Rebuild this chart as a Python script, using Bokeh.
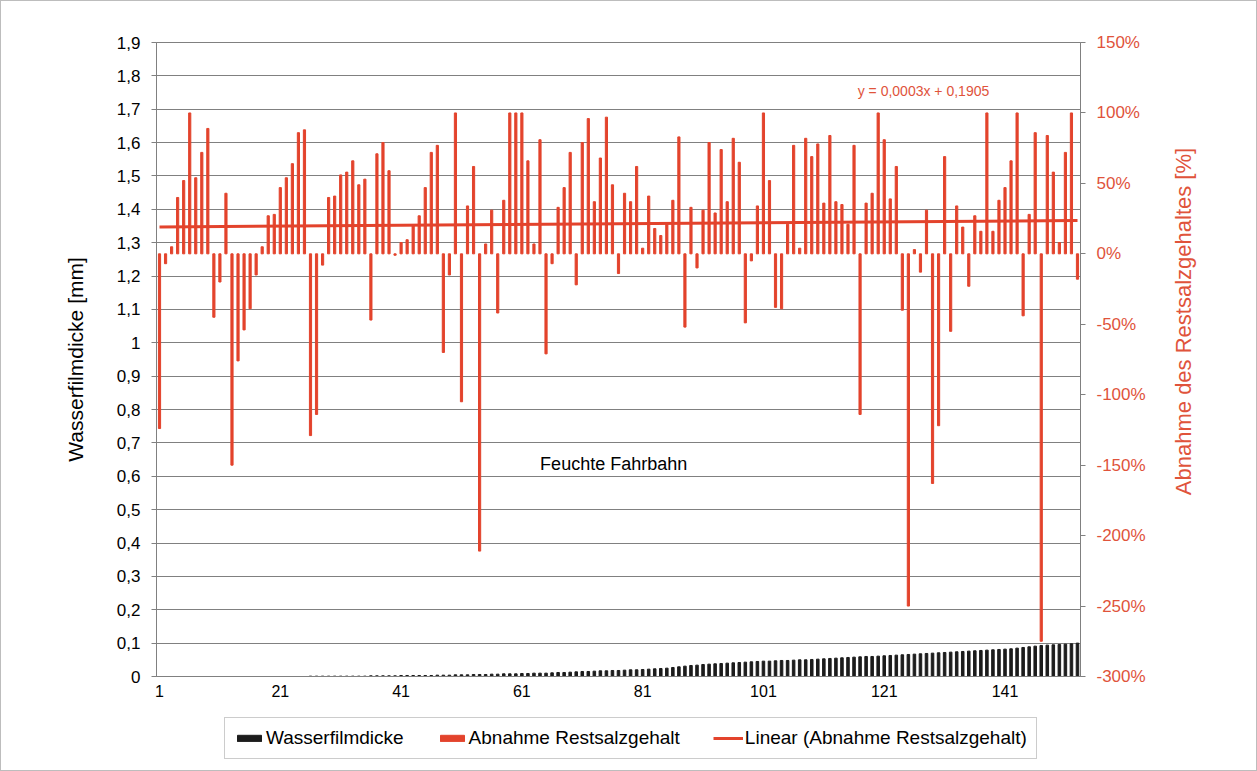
import math
from bokeh.plotting import figure
from bokeh.layouts import row, column
from bokeh.models import (Range1d, LinearAxis, FixedTicker, Legend, LegendItem, Label)
from bokeh.embed import file_html
from bokeh.resources import INLINE

# ---------------- data ----------------
categories = list(range(1, 154))

wasserfilmdicke = (
    [0.0] * 25
    + [0.001] * 10
    + [0.002] * 5 + [0.003] * 5
    + [0.003, 0.004, 0.004, 0.004, 0.005, 0.005, 0.005, 0.006, 0.006, 0.006]
    + [0.007, 0.007, 0.008, 0.008, 0.008, 0.009, 0.009, 0.010, 0.010, 0.010]
    + [0.011, 0.012, 0.012, 0.013, 0.014, 0.015, 0.015, 0.016, 0.017, 0.017]
    + [0.018, 0.018, 0.019, 0.020, 0.020, 0.021, 0.022, 0.023, 0.024, 0.025]
    + [0.027, 0.029, 0.031, 0.033, 0.034, 0.036, 0.037, 0.038, 0.039, 0.040]
    + [0.041, 0.042, 0.043, 0.044, 0.045, 0.046, 0.046, 0.047, 0.048, 0.048]
    + [0.049, 0.050, 0.050, 0.051, 0.052, 0.053, 0.054, 0.055, 0.056, 0.057]
    + [0.058, 0.059, 0.060, 0.060, 0.061, 0.062, 0.063, 0.064, 0.065, 0.066]
    + [0.067, 0.068, 0.069, 0.070, 0.071, 0.072, 0.073, 0.074, 0.075, 0.076]
    + [0.077, 0.078, 0.079, 0.080, 0.081, 0.082, 0.083, 0.085, 0.087, 0.089]
    + [0.091, 0.093, 0.094, 0.095, 0.096, 0.097, 0.098, 0.100]
)

abnahme_restsalz = [
    -124, -7, 5, 40, 52, 100, 54, 72, 89, -45,
    -20, 43, -150, -76, -54, -39, -15, 5, 27, 28,
    47, 54, 64, 86, 88, -129, -114, -8, 40, 41,
    56, 58, 66, 49, 53, -47, 71, 79, 59, -1,
    8, 10, 20, 27, 47, 72, 77, -70, -15, 100,
    -105, 34, 62, -211, 7, 31, -42, 38, 100, 100,
    100, 66, 7, 81, -71, -7, 33, 47, 72, -22,
    79, 96, 37, 68, 97, 49, -14, 43, 37, 62,
    4, 41, 18, 13, 22, 38, 83, -52, 33, -10,
    31, 79, 29, 74, 37, 82, 65, -49, -5, 34,
    100, 52, -38, -39, 21, 77, 4, 82, 69, 78,
    36, 84, 37, 35, 21, 77, -114, 36, 43, 100,
    81, 39, 62, -40, -250, 3, -13, 31, -163, -122,
    69, -55, 34, 19, -23, 27, 16, 100, 16, 38,
    47, 66, 100, -44, 28, 86, -275, 84, 58, 8,
    72, 100, -18,
]

trend_slope = 0.0003
trend_intercept = 0.1905
trend_label = "y = 0,0003x + 0,1905"

x_ticks = [1, 21, 41, 61, 81, 101, 121, 141]
left_ticks = [0.0, 0.1, 0.2, 0.3, 0.4, 0.5, 0.6, 0.7, 0.8, 0.9, 1.0,
              1.1, 1.2, 1.3, 1.4, 1.5, 1.6, 1.7, 1.8, 1.9]
right_ticks = [-300, -250, -200, -150, -100, -50, 0, 50, 100, 150]
right_title = "Abnahme des Restsalzgehaltes [%]"
legend_labels = ["Wasserfilmdicke", "Abnahme Restsalzgehalt",
                 "Linear (Abnahme Restsalzgehalt)"]

# ---------------- style ----------------
FONT = "Liberation Sans"
RED = "#E3432C"
RED_TXT = "#E0533B"
GRID = "#808080"
BLACK = "#1c1c1c"

MAIN_W, SIDE_W = 1160, 95
TOP, FRAME_H, BOT = 41, 634, 30
MAIN_H = TOP + FRAME_H + BOT
LEG_H = 64

p = figure(width=MAIN_W, height=MAIN_H, output_backend="svg", toolbar_location=None,
           x_range=Range1d(0.5, len(categories) + 0.5), y_range=Range1d(0, 1.9),
           min_border_left=155, min_border_right=81, min_border_top=TOP,
           min_border_bottom=BOT)
p.extra_y_ranges = {"pct": Range1d(-300, 150)}
p.background_fill_color = "white"
p.border_fill_color = "white"
p.outline_line_color = GRID

# gridlines
p.xgrid.visible = False
p.ygrid.ticker = FixedTicker(ticks=left_ticks)
p.ygrid.grid_line_color = GRID
p.ygrid.grid_line_width = 1

# trend line values
tx = [categories[0], categories[-1]]
ty = [(trend_slope * x + trend_intercept) * 100 for x in tx]

# bars
black = p.vbar(x=categories, top=wasserfilmdicke, width=0.42, color=BLACK)
red = p.vbar(x=categories, top=abnahme_restsalz, bottom=0, width=0.36,
             color=RED, y_range_name="pct")
trend = p.line(tx, ty, line_width=3, color=RED, y_range_name="pct")

# x axis
xa = p.xaxis[0]
xa.ticker = FixedTicker(ticks=x_ticks)
xa.major_tick_out = 0
xa.major_tick_in = 0
xa.minor_tick_out = 0
xa.minor_tick_in = 0
xa.axis_line_color = GRID
xa.major_label_text_font = FONT
xa.major_label_text_font_size = "16px"
xa.major_label_text_color = "black"
xa.major_label_standoff = 8

# left axis
def fmt(v):
    if abs(v - round(v)) < 1e-9:
        return str(int(round(v)))
    return ("%.1f" % v).replace(".", ",")

ya = p.yaxis[0]
ya.ticker = FixedTicker(ticks=left_ticks)
ya.major_label_overrides = {v: fmt(v) for v in left_ticks}
ya.major_tick_out = 5
ya.major_tick_in = 0
ya.minor_tick_out = 0
ya.minor_tick_in = 0
ya.axis_line_color = GRID
ya.major_tick_line_color = GRID
ya.major_label_text_font = FONT
ya.major_label_text_font_size = "17px"
ya.major_label_text_color = "black"
ya.major_label_standoff = 11
ya.axis_label = "Wasserfilmdicke [mm]"
ya.axis_label_text_font = FONT
ya.axis_label_text_font_size = "21px"
ya.axis_label_text_font_style = "normal"
ya.axis_label_text_color = "black"
ya.axis_label_standoff = 27

# right axis
ra = LinearAxis(y_range_name="pct", ticker=FixedTicker(ticks=right_ticks))
ra.major_label_overrides = {v: "%d%%" % v for v in right_ticks}
ra.major_tick_out = 5
ra.major_tick_in = 0
ra.minor_tick_out = 0
ra.minor_tick_in = 0
ra.axis_line_color = GRID
ra.major_tick_line_color = GRID
ra.major_label_text_font = FONT
ra.major_label_text_font_size = "17px"
ra.major_label_text_color = RED_TXT
ra.major_label_standoff = 11
p.add_layout(ra, "right")

# annotations
p.add_layout(Label(x=76.2, y=0.638, text="Feuchte Fahrbahn", text_font=FONT,
                   text_font_size="18px", text_color="black",
                   text_align="center", text_baseline="middle"))
p.add_layout(Label(x=127.5, y=1.756, text=trend_label, text_font=FONT,
                   text_font_size="14px", text_color=RED_TXT,
                   text_align="center", text_baseline="middle"))

# side panel holding the right axis title (reads bottom-to-top)
side = figure(width=SIDE_W, height=MAIN_H, output_backend="svg", toolbar_location=None,
              x_range=Range1d(0, SIDE_W), y_range=Range1d(0, FRAME_H),
              x_axis_type=None, y_axis_type=None,
              min_border_left=0, min_border_right=0, min_border_top=TOP,
              min_border_bottom=BOT)
side.xgrid.visible = False
side.ygrid.visible = False
side.outline_line_color = None
side.background_fill_color = "white"
side.border_fill_color = "white"
side.add_layout(Label(x=22, y=355, text=right_title, angle=math.pi / 2,
                      text_font=FONT, text_font_size="22px", text_color=RED_TXT,
                      text_align="center", text_baseline="middle"))

# legend strip below the plot (its renderers carry the same series, kept out of view)
leg = figure(width=MAIN_W + SIDE_W, height=LEG_H, output_backend="svg",
             toolbar_location=None, x_range=Range1d(5000, 5001), y_range=Range1d(5000, 5001),
             x_axis_type=None, y_axis_type=None,
             min_border_left=155, min_border_right=SIDE_W + 81,
             min_border_top=0, min_border_bottom=0)
leg.xgrid.visible = False
leg.ygrid.visible = False
leg.outline_line_color = None
leg.background_fill_color = "white"
leg.border_fill_color = "white"
lg_black = leg.vbar(x=categories, top=wasserfilmdicke, width=0.42, color=BLACK)
lg_red = leg.vbar(x=categories, top=abnahme_restsalz, width=0.36, color=RED)
lg_line = leg.line(x=tx, y=ty, line_width=3, color=RED)

legend = Legend(items=[
    LegendItem(label=legend_labels[0], renderers=[lg_black]),
    LegendItem(label=legend_labels[1], renderers=[lg_red]),
    LegendItem(label=legend_labels[2], renderers=[lg_line]),
], orientation="horizontal", location=(68, 11))
legend.label_text_font = FONT
legend.label_text_font_size = "19px"
legend.label_text_color = "black"
legend.glyph_width = 30
legend.glyph_height = 8
legend.label_height = 20
legend.label_standoff = 2
legend.spacing = 33
legend.padding = 9
legend.margin = 0
legend.border_line_color = "#9a9a9a"
legend.border_line_width = 1
legend.background_fill_color = "white"
legend.background_fill_alpha = 1
leg.add_layout(legend)

layout = column(row(p, side, spacing=0), leg, spacing=0)
layout.styles = {"border": "1px solid #bdbdbd"}

open("out.html", "w").write(file_html(layout, INLINE))
